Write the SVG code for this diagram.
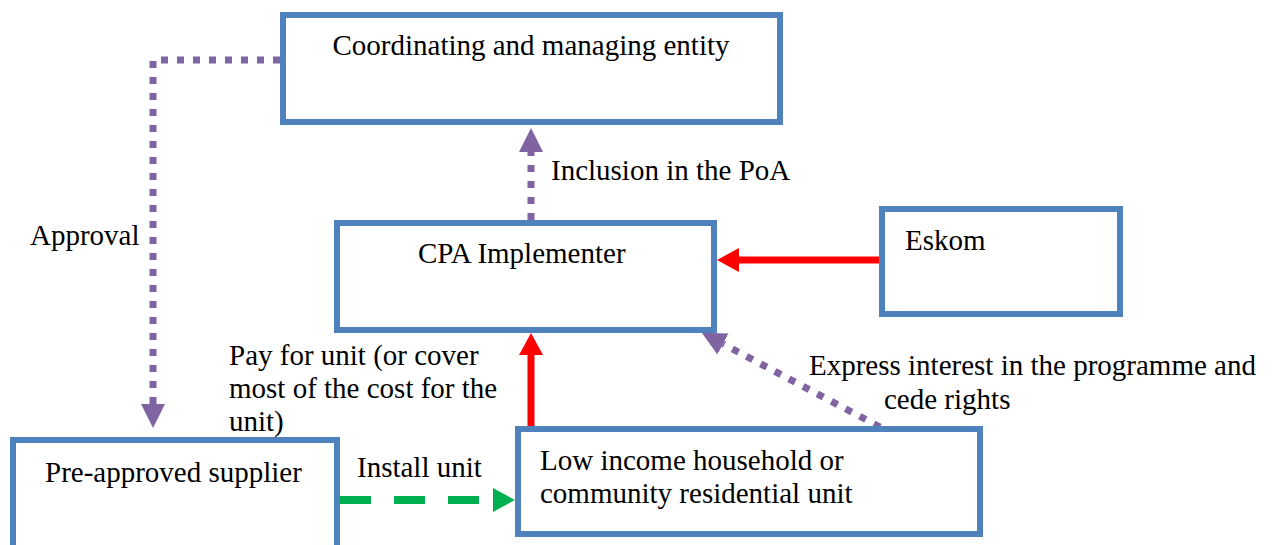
<svg xmlns="http://www.w3.org/2000/svg" width="1281" height="545" viewBox="0 0 1281 545">
  <style>
    .box { fill: #FFFFFF; stroke: #4F81BD; stroke-width: 6; }
    text { font-family: 'Liberation Serif', 'Tinos', 'Times New Roman', 'DejaVu Serif', serif; font-size: 29px; fill: #000000; }
    .purple { fill: none; stroke: #8064A2; stroke-width: 7; stroke-dasharray: 7 9; }
    .red { fill: none; stroke: #FF0000; stroke-width: 7; }
    .green { fill: none; stroke: #00B050; stroke-width: 8; stroke-dasharray: 31 23; }
  </style>
  <defs>
    <marker id="headPurple" markerUnits="userSpaceOnUse" markerWidth="24" markerHeight="24" viewBox="0 0 24 24" refX="0" refY="12" orient="auto">
      <path d="M0,0 L24,12 L0,24 Z" fill="#8064A2"/>
    </marker>
    <marker id="headRed" markerUnits="userSpaceOnUse" markerWidth="23" markerHeight="24" viewBox="0 0 23 24" refX="0" refY="12" orient="auto">
      <path d="M0,0 L22,12 L0,24 Z" fill="#FF0000"/>
    </marker>
    <marker id="headGreen" markerUnits="userSpaceOnUse" markerWidth="23" markerHeight="24" viewBox="0 0 23 24" refX="0" refY="12" orient="auto">
      <path d="M0,0 L22,12 L0,24 Z" fill="#00B050"/>
    </marker>
  </defs>
  <rect x="0" y="0" width="1281" height="545" fill="#FFFFFF"/>

  <g id="connectors" font-family="Liberation Serif, serif">
    <path id="approval" class="purple" d="M280,60 H153 V404" marker-end="url(#headPurple)"/>
    <path id="inclusion" class="purple" d="M531,220 V152" marker-end="url(#headPurple)"/>
    <path id="express" class="purple" d="M880,427 L723,344" marker-end="url(#headPurple)"/>
    <path id="eskom-pay" class="red" d="M879,260 H739" marker-end="url(#headRed)"/>
    <path id="pay-unit" class="red" d="M531,426 V355" marker-end="url(#headRed)"/>
    <path id="install" class="green" d="M340,500 H493" marker-end="url(#headGreen)"/>
    <text x="30" y="245">Approval</text>
    <text x="551" y="180">Inclusion in the PoA</text>
    <text x="229" y="365">Pay for unit (or cover</text>
    <text x="229" y="398">most of the cost for the</text>
    <text x="229" y="431">unit)</text>
    <text x="357" y="477">Install unit</text>
    <text x="809" y="375">Express interest in the programme and</text>
    <text x="884" y="409">cede rights</text>
  </g>

  <g id="coordinating">
    <rect class="box" x="283" y="15" width="497" height="107"/>
    <text x="531" y="55" text-anchor="middle">Coordinating and managing entity</text>
  </g>
  <g id="cpa">
    <rect class="box" x="337" y="223" width="377" height="107"/>
    <text x="418" y="263">CPA Implementer</text>
  </g>
  <g id="eskom">
    <rect class="box" x="882" y="209" width="238" height="105"/>
    <text x="905" y="250">Eskom</text>
  </g>
  <g id="supplier">
    <rect class="box" x="13" y="440" width="324" height="115"/>
    <text x="45" y="482">Pre-approved supplier</text>
  </g>
  <g id="household">
    <rect class="box" x="518" y="429" width="462" height="105"/>
    <text x="540" y="470">Low income household or</text>
    <text x="540" y="503">community residential unit</text>
  </g>
</svg>
